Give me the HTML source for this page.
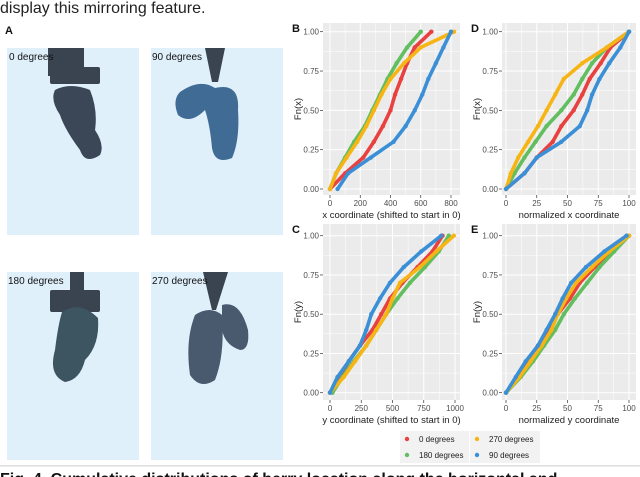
<!DOCTYPE html>
<html><head><meta charset="utf-8"><style>
body{margin:0;width:640px;height:477px;overflow:hidden;background:#fff;font-family:"Liberation Sans",sans-serif}
svg{display:block}
</style></head><body>
<svg id="fig" width="640" height="477" viewBox="0 0 640 477" xmlns="http://www.w3.org/2000/svg">
<text x="0" y="13" font-size="16" fill="#222">display this mirroring feature.</text>
<text x="5" y="34" font-size="11" font-weight="bold" fill="#111">A</text>
<g>
<rect x="7" y="48" width="132" height="187" fill="#dff0fb"/>
<rect x="48" y="48" width="35" height="28" fill="#3a4350"/><rect x="70" y="48" width="14" height="36" fill="#3a4350"/><rect x="50" y="67" width="50" height="17" fill="#3a4350" rx="2"/>
<path d="M55 90 Q70 82 90 90 Q98 110 95 130 Q105 145 100 155 Q85 165 80 150 Q65 130 60 115 Q50 100 55 90Z" fill="#3b4657"/>
<text x="9" y="60" font-size="10" fill="#111">0 degrees</text></g>
<g>
<rect x="151" y="48" width="132" height="187" fill="#dff0fb"/>
<path d="M205 48 L225 48 L218 82 L212 82Z" fill="#3a4350"/>
<path d="M180 92 Q200 78 215 88 Q240 82 238 110 Q240 140 232 158 Q215 165 212 148 Q210 125 205 110 Q190 125 178 115 Q172 100 180 92Z" fill="#3f6b95"/>
<text x="152" y="60" font-size="10" fill="#111">90 degrees</text></g>
<g>
<rect x="7" y="272" width="132" height="188" fill="#dff0fb"/>
<rect x="70" y="272" width="14" height="30" fill="#3a4350"/><rect x="50" y="290" width="50" height="22" fill="#3a4350" rx="2"/>
<path d="M62 312 Q80 300 98 318 Q100 345 85 360 Q80 380 65 382 Q48 375 55 350 Q58 325 62 312Z" fill="#3d5560"/>
<text x="8" y="284" font-size="10" fill="#111">180 degrees</text></g>
<g>
<rect x="151" y="272" width="132" height="188" fill="#dff0fb"/>
<path d="M203 272 L228 272 L216 310 L212 310Z" fill="#3a4350"/>
<path d="M195 315 Q210 305 222 315 Q225 355 215 380 Q200 390 190 375 Q185 340 195 315Z" fill="#4a5a6e"/>
<path d="M222 305 Q240 300 248 330 Q250 350 240 350 Q225 345 222 330Z" fill="#4a5a6e"/>
<text x="152" y="284" font-size="10" fill="#111">270 degrees</text></g>
<g id="charts"></g>
<g>
<rect x="400" y="431" width="69" height="32" fill="#f2f2f2"/><rect x="470" y="431" width="70" height="32" fill="#f2f2f2"/>
<circle cx="407" cy="439" r="2.2" fill="#E8413F"/><text x="419" y="442" font-size="8" fill="#222">0 degrees</text>
<circle cx="407" cy="455" r="2.2" fill="#62BE5E"/><text x="419" y="458" font-size="8" fill="#222">180 degrees</text>
<circle cx="477" cy="439" r="2.2" fill="#F7B515"/><text x="489" y="442" font-size="8" fill="#222">270 degrees</text>
<circle cx="477" cy="455" r="2.2" fill="#3A8FD6"/><text x="489" y="458" font-size="8" fill="#222">90 degrees</text>
</g>
<rect x="0" y="465" width="640" height="1.5" fill="#ddd"/>
<text x="0" y="484" font-size="16" font-weight="bold" fill="#111">Fig. 4. Cumulative distributions of berry location along the horizontal and</text>
</svg>
<script>
const levels = [0,0.1,0.2,0.3,0.4,0.5,0.6,0.7,0.8,0.9,1];
const seriesNames = ["0 degrees","180 degrees","270 degrees","90 degrees"];
const colors = ["#E8413F","#62BE5E","#F7B515","#3A8FD6"];
const bRed=[0,100,220,290,350,400,430,470,510,560,670];
const bGreen=[0,40,100,160,230,280,330,380,440,510,600];
const bYellow=[0,40,110,180,240,290,340,400,490,600,820];
const bBlue=[50,120,270,420,500,560,610,650,700,750,800];
const dRed=[0,15,25,38,45,55,62,68,77,85,100];
const dGreen=[0,7,15,24,33,45,55,62,70,82,100];
const dYellow=[0,4,10,18,26,33,40,47,62,82,100];
const dBlue=[0,15,25,45,60,66,70,76,84,93,100];
const cRed=[0,80,150,240,340,410,480,580,700,820,900];
const cGreen=[20,100,190,290,370,450,540,640,760,870,950];
const cYellow=[0,110,200,290,370,450,500,560,720,850,990];
const cBlue=[0,60,150,240,290,330,400,480,590,730,890];
const eRed=[0,10,17,26,34,42,52,60,72,86,100];
const eGreen=[0,12,22,31,40,47,56,66,76,88,100];
const eYellow=[0,11,20,29,37,42,49,57,70,84,100];
const eBlue=[0,8,16,26,33,40,46,53,65,80,98];
const yTicks=[0,0.25,0.5,0.75,1];
const yTickLabels=["0.00","0.25","0.50","0.75","1.00"];
const bTicks=[0,200,400,600,800];
const cTicks=[0,250,500,750,1000];
const nTicks=[0,25,50,75,100];

const NS="http://www.w3.org/2000/svg";
const root=document.getElementById('charts');
function mk(tag,attrs,parent){const e=document.createElementNS(NS,tag);for(const k in attrs)e.setAttribute(k,attrs[k]);parent.appendChild(e);return e;}

function panel(p){
  const g=mk('g',{},root);
  
  
  const xs=v=>p.x0+(v-p.xmin)/(p.xmax-p.xmin)*(p.x1-p.x0);
  const ys=v=>p.y0+(p.y1-p.y0)*v;
  mk('rect',{x:p.left,y:p.top,width:p.right-p.left,height:p.bottom-p.top,fill:'#ebebeb'},g);
  const half=(a,b)=>(a+b)/2;
  for(let i=0;i<yTicks.length;i++){
    mk('line',{x1:p.left,x2:p.right,y1:ys(yTicks[i]),y2:ys(yTicks[i]),stroke:'#fff','stroke-width':1},g);
    if(i<yTicks.length-1){const m=ys(half(yTicks[i],yTicks[i+1]));mk('line',{x1:p.left,x2:p.right,y1:m,y2:m,stroke:'#fff','stroke-width':0.5},g);}
    mk('line',{x1:p.left-3,x2:p.left,y1:ys(yTicks[i]),y2:ys(yTicks[i]),stroke:'#333','stroke-width':0.7},g);
    const t=mk('text',{x:p.left-4,y:ys(yTicks[i])+3,'font-size':8,fill:'#4d4d4d','text-anchor':'end'},g);t.textContent=yTickLabels[i];
  }
  for(let i=0;i<p.ticks.length;i++){
    const x=xs(p.ticks[i]);
    mk('line',{x1:x,x2:x,y1:p.top,y2:p.bottom,stroke:'#fff','stroke-width':1},g);
    if(i<p.ticks.length-1){const m=xs(half(p.ticks[i],p.ticks[i+1]));mk('line',{x1:m,x2:m,y1:p.top,y2:p.bottom,stroke:'#fff','stroke-width':0.5},g);}
    mk('line',{x1:x,x2:x,y1:p.bottom,y2:p.bottom+3,stroke:'#333','stroke-width':0.7},g);
    const t=mk('text',{x:x,y:p.bottom+11,'font-size':8,fill:'#4d4d4d','text-anchor':'middle'},g);t.textContent=p.ticks[i];
  }
  p.series.forEach((s,si)=>{
    const sg=mk('g',{},g);
    
    
    const pts=s.map((v,i)=>xs(v).toFixed(1)+','+ys(levels[i]).toFixed(1)).join(' ');
    mk('polyline',{points:pts,fill:'none',stroke:colors[si],'stroke-width':3.6,'stroke-linejoin':'round','stroke-linecap':'round'},sg);
    s.forEach((v,i)=>{mk('circle',{cx:xs(v),cy:ys(levels[i]),r:2.2,fill:colors[si]},sg);});
  });
  const lt=mk('text',{x:p.left-31,y:p.top+9,'font-size':11,'font-weight':'bold',fill:'#111'},g);lt.textContent=p.letter;
  const xt=mk('text',{x:(p.left+p.right)/2,y:p.bottom+23,'font-size':9.5,fill:'#222','text-anchor':'middle'},g);xt.textContent=p.xtitle;
  const cy=(p.top+p.bottom)/2;
  const yt=mk('text',{x:p.left-22,y:cy,'font-size':9.5,fill:'#222','text-anchor':'middle',transform:`rotate(-90 ${p.left-22} ${cy})`},g);yt.textContent=p.ytitle;
}
panel({name:'chart-b',letter:'B',left:323,right:460,top:23,bottom:195,x0:330,x1:451,xmin:0,xmax:800,y0:189,y1:31.7,ticks:bTicks,series:[bRed,bGreen,bYellow,bBlue],xtitle:'x coordinate (shifted to start in 0)',ytitle:'Fn(x)'});
panel({name:'chart-d',letter:'D',left:502,right:636,top:23,bottom:195,x0:506,x1:629,xmin:0,xmax:100,y0:189,y1:31.7,ticks:nTicks,series:[dRed,dGreen,dYellow,dBlue],xtitle:'normalized x coordinate',ytitle:'Fn(x)'});
panel({name:'chart-c',letter:'C',left:323,right:460,top:224,bottom:400,x0:330,x1:455,xmin:0,xmax:1000,y0:392.7,y1:235.7,ticks:cTicks,series:[cRed,cGreen,cYellow,cBlue],xtitle:'y coordinate (shifted to start in 0)',ytitle:'Fn(y)'});
panel({name:'chart-e',letter:'E',left:502,right:636,top:224,bottom:400,x0:506,x1:629,xmin:0,xmax:100,y0:392.7,y1:235.7,ticks:nTicks,series:[eRed,eGreen,eYellow,eBlue],xtitle:'normalized y coordinate',ytitle:'Fn(y)'});
</script>
</body></html>
